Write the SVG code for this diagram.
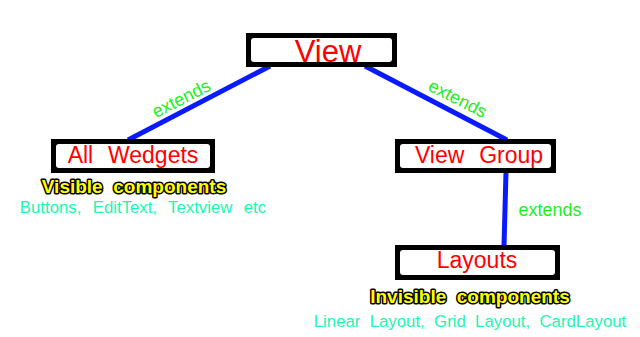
<svg xmlns="http://www.w3.org/2000/svg" width="640" height="337" viewBox="0 0 640 337">
<style>
.box{fill:#000}
.inner{fill:#fff}
.lbl{font-family:"Liberation Sans",Arial,sans-serif;fill:#ff0000;text-anchor:middle;white-space:pre;word-spacing:1px}
.ext{font-family:"Liberation Sans",Arial,sans-serif;fill:#22ee22;font-size:18px;text-anchor:middle}
.vis{font-family:"Liberation Sans",Arial,sans-serif;font-weight:bold;fill:#ffff00;stroke:#000;stroke-width:3;paint-order:stroke;stroke-linejoin:round;font-size:19px;text-anchor:middle;white-space:pre}
.sub{font-family:"Liberation Sans",Arial,sans-serif;fill:#1ef5b0;font-size:16.8px;text-anchor:middle;white-space:pre}
.con{stroke:#0a1aff;stroke-width:5;stroke-linecap:butt;fill:none}
</style>
<rect width="640" height="337" fill="#fff"/>
<g id="connectors">
<line class="con" x1="270" y1="66" x2="128" y2="140"/>
<line class="con" x1="365" y1="66" x2="507" y2="140"/>
<line class="con" x1="506" y1="172" x2="504" y2="246"/>
</g>
<g id="labels">
<text class="ext" transform="translate(184,104) rotate(-27)">extends</text>
<text class="ext" transform="translate(455,104) rotate(27)">extends</text>
<text class="ext" x="550" y="216">extends</text>
</g>
<g id="view">
<rect class="box" x="246" y="33" width="151" height="34"/>
<rect class="inner" x="251" y="38" width="141" height="24" rx="3"/>
<text class="lbl" x="328" y="62" font-size="31">View</text>
</g>
<g id="widgets">
<rect class="box" x="51" y="139" width="164" height="34"/>
<rect class="inner" x="56" y="144" width="154" height="24" rx="3"/>
<text class="lbl" x="133" y="163" font-size="23">All  Wedgets</text>
<text class="vis" x="134" y="193">Visible  components</text>
<text class="sub" x="143" y="213" style="word-spacing:1px">Buttons,  EditText,  Textview  etc</text>
</g>
<g id="viewgroup">
<rect class="box" x="395" y="139" width="161" height="34"/>
<rect class="inner" x="400" y="144" width="151" height="24" rx="3"/>
<text class="lbl" x="479" y="163" font-size="23">View  Group</text>
</g>
<g id="layouts">
<rect class="box" x="395" y="245" width="165" height="35"/>
<rect class="inner" x="400" y="250" width="155" height="25" rx="3"/>
<text class="lbl" x="477" y="268" font-size="23">Layouts</text>
<text class="vis" x="470" y="303">Invisible  components</text>
<text class="sub" x="470" y="327">Linear  Layout,  Grid  Layout,  CardLayout</text>
</g>
</svg>
